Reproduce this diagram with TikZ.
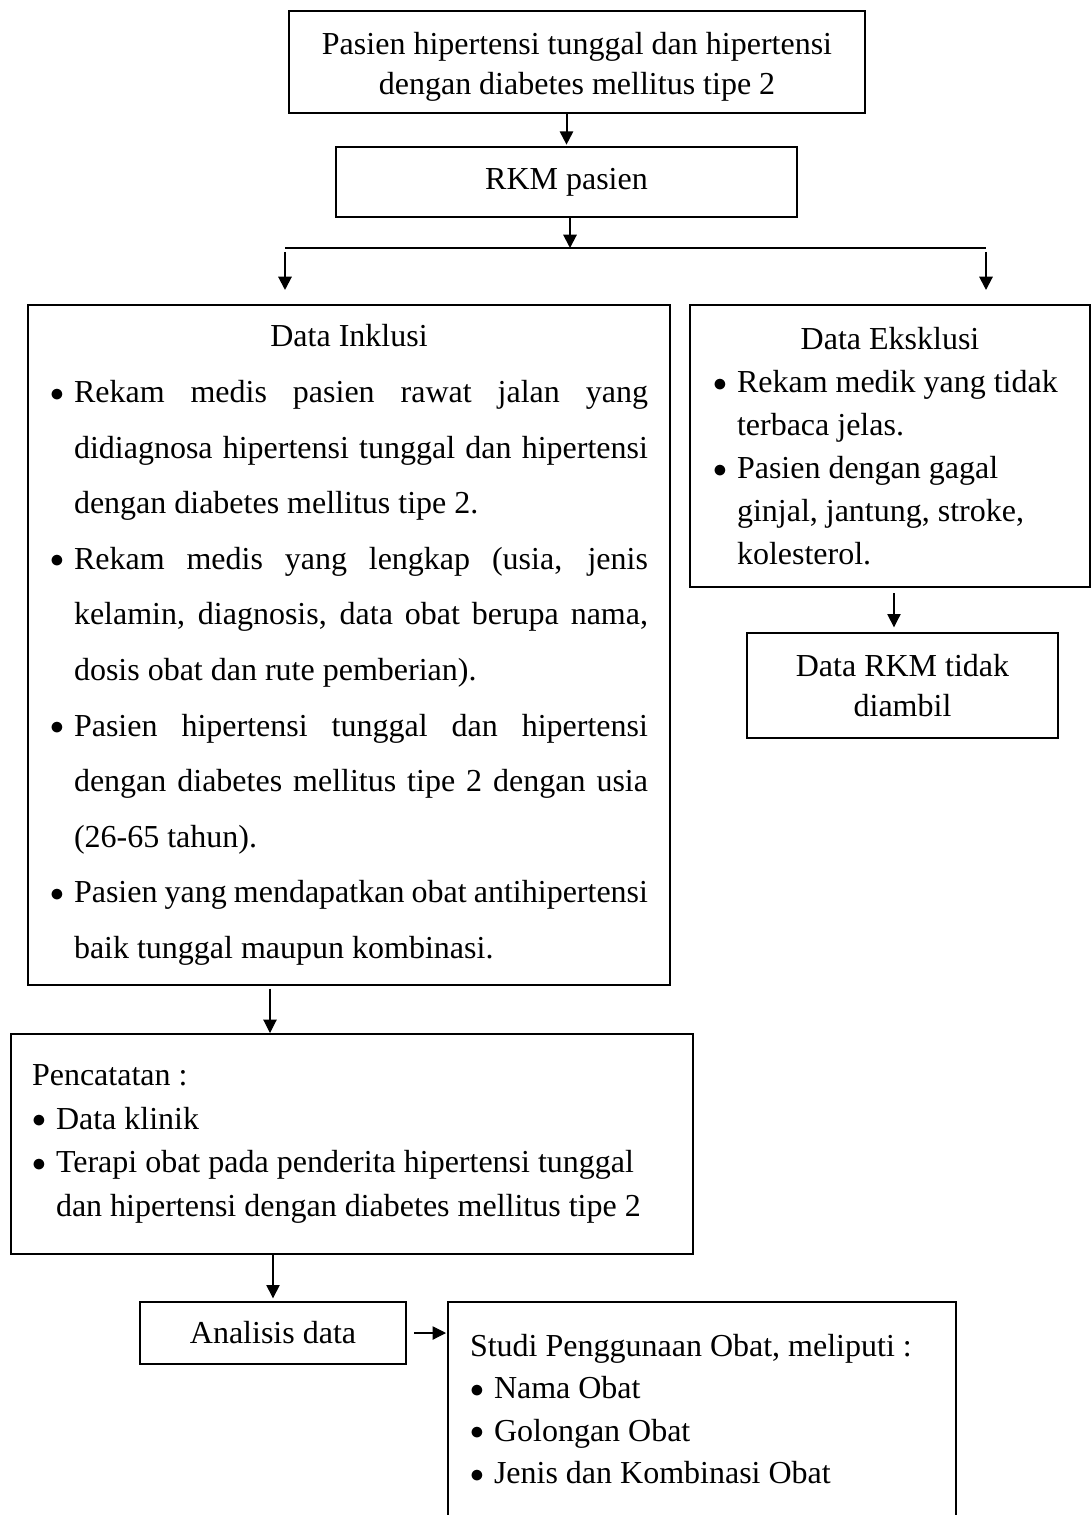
\documentclass[tikz,border=0pt]{standalone}
\usepackage{fontspec}
\setmainfont{Liberation Serif}
\usetikzlibrary{arrows.meta}

\tikzset{
  kotak/.style={draw, line width=1.5pt, anchor=north west, inner sep=0pt,
    font=\fontsize{24}{30}\selectfont},
  panah/.style={-{Triangle[length=10pt,width=10pt]}, line width=0.8pt},
  panahtebal/.style={panah, line width=1.5pt},
}
\newcommand{\butir}{\par\noindent\hangindent=18pt\hangafter=1\makebox[18pt][l]{\raisebox{1pt}{\fontsize{22}{22}\selectfont$\bullet$}}}

\begin{document}
\begin{tikzpicture}[x=0.75pt,y=0.75pt,yscale=-1,xscale=1]
\useasboundingbox (0,0) rectangle (1091,1515);
% kotak-kotak
\node[kotak, minimum width=432pt, minimum height=76.5pt, align=center] (pasien) at (288,10)
  {\rule{0pt}{24pt}Pasien hipertensi tunggal dan hipertensi\\dengan diabetes mellitus tipe 2};
\node[kotak, minimum width=345.75pt, minimum height=52.5pt] (rkm) at (335,146) {RKM pasien};
\node[kotak, minimum width=481.5pt, minimum height=510pt, text width=448.5pt, inner xsep=16.5pt,
  align=justify, font=\fontsize{24}{41.7}\selectfont] (inklusi) at (27,304)
  {{\centering Data Inklusi\par}
   \butir Rekam medis pasien rawat jalan yang\linebreak didiagnosa hipertensi tunggal dan hipertensi\linebreak dengan diabetes mellitus tipe 2.
   \butir Rekam medis yang lengkap (usia, jenis\linebreak kelamin, diagnosis, data obat berupa nama,\linebreak dosis obat dan rute pemberian).
   \butir Pasien hipertensi tunggal dan hipertensi\linebreak dengan diabetes mellitus tipe 2 dengan usia\linebreak (26-65 tahun).
   \butir Pasien yang mendapatkan obat antihipertensi\linebreak baik tunggal maupun kombinasi.\par};
\node[kotak, minimum width=300pt, minimum height=211.5pt, text width=265.5pt, inner xsep=17.25pt,
  align=justify, font=\fontsize{24}{32.25}\selectfont] (eksklusi) at (689,304)
  {{\centering Data Eksklusi\par}
   \butir Rekam medik yang tidak\newline terbaca jelas.
   \butir Pasien dengan gagal\newline ginjal, jantung, stroke,\newline kolesterol.\par};
\node[kotak, minimum width=233.25pt, minimum height=78.75pt, align=center] (tidak) at (746,632)
  {Data RKM tidak\\diambil};
\node[kotak, minimum width=511.5pt, minimum height=165pt, text width=480pt, inner xsep=15.75pt,
  align=justify, font=\fontsize{24}{32.75}\selectfont] (catat) at (10,1033)
  {Pencatatan :
   \butir Data klinik
   \butir Terapi obat pada penderita hipertensi tunggal\newline dan hipertensi dengan diabetes mellitus tipe 2\par};
\node[kotak, minimum width=199.5pt, minimum height=46.5pt] (analisis) at (139,1301) {Analisis data};
\node[kotak, draw=none, minimum width=379.5pt, minimum height=159pt, text width=348pt, inner xsep=15.75pt,
  align=justify, font=\fontsize{24}{31.75}\selectfont] (studi) at (448,1302)
  {Studi Penggunaan Obat, meliputi :
   \butir Nama Obat
   \butir Golongan Obat
   \butir Jenis dan Kombinasi Obat\par};
\draw[line width=1.5pt] (studi.south west) -- (studi.north west) -- (studi.north east) -- (studi.south east);
% percabangan
\coordinate (fork) at (570,248);
\coordinate (forkL) at (285,248);
\coordinate (forkR) at (986,248);
\draw[line width=1.5pt] (forkL) -- (forkR);
% panah
\draw[panahtebal, shorten >=1pt] (pasien.south -| rkm.north) -- (rkm.north);
\draw[panahtebal] (rkm.south -| fork) -- (fork);
\draw[panahtebal, shorten <=3pt, shorten >=10.5pt] (forkL) -- (forkL |- inklusi.north);
\draw[panahtebal, shorten <=3pt, shorten >=10.5pt] (forkR) -- (forkR |- eksklusi.north);
\draw[panah, shorten <=4pt, shorten >=3.5pt] ([xshift=-6.4pt]tidak.north |- eksklusi.south) -- ([xshift=-6.4pt]tidak.north);
\draw[panah, shorten <=2pt] ([xshift=-59.25pt]inklusi.south) -- ([xshift=-59.25pt]inklusi.south |- catat.north);
\draw[panah, shorten >=2pt] (catat.south -| analisis.north) -- (analisis.north);
\draw[panah, shorten <=5.25pt, shorten >=1.5pt] (analisis.east) -- (analisis.east -| studi.west);
\end{tikzpicture}
\end{document}
